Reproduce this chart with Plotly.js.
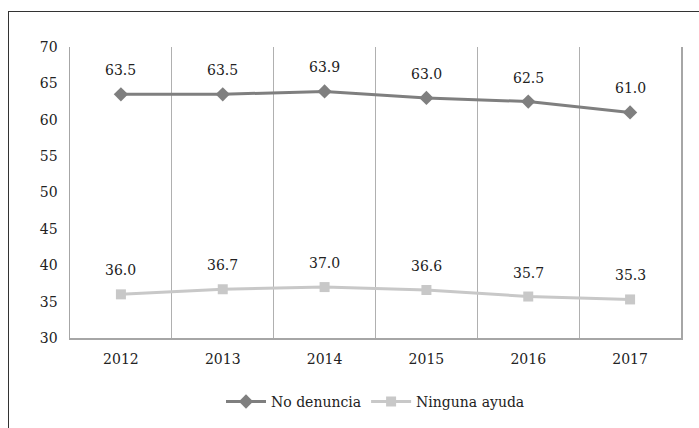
<!DOCTYPE html>
<html><head><meta charset="utf-8">
<script src="https://cdn.plot.ly/plotly-3.0.1.min.js"></script>
<style>
body{margin:0;padding:0;background:#fff;}
#wrap{position:relative;width:699px;height:428px;overflow:hidden;}
#frame{position:absolute;left:8px;top:11px;width:800px;height:600px;border-left:1.5px solid #333;border-top:1.5px solid #333;pointer-events:none;}
#chart{position:absolute;left:0;top:0;width:699px;height:428px;}
</style></head>
<body><div id="wrap"><div id="chart"></div><div id="frame"></div></div>
<script>
const years = ["2012","2013","2014","2015","2016","2017"];
const noDenuncia = [63.5, 63.5, 63.9, 63.0, 62.5, 61.0];
const ningunaAyuda = [36.0, 36.7, 37.0, 36.6, 35.7, 35.3];
const seriesNames = ["No denuncia", "Ninguna ayuda"];
const yTicks = [30,35,40,45,50,55,60,65,70];

const idx = years.map((_, i) => i);
function F(){ return {family: "DejaVu Serif", size: 14, color: "#222"}; }

const traces = [
  {x: idx, y: noDenuncia, name: seriesNames[0], type: "scatter", mode: "lines+markers",
   line: {color: "#7f7f7f", width: 3}, marker: {symbol: "diamond", size: 11, color: "#7f7f7f"}},
  {x: idx, y: ningunaAyuda, name: seriesNames[1], type: "scatter", mode: "lines+markers",
   line: {color: "#c8c8c8", width: 3}, marker: {symbol: "square", size: 10, color: "#c8c8c8"}}
];

const annotations = [];
[noDenuncia, ningunaAyuda].forEach(arr => {
  arr.forEach((v, i) => {
    annotations.push({x: idx[i], y: v, text: v.toFixed(1), showarrow: false,
      yshift: 24, font: F(), xref: "x", yref: "y"});
  });
});

const layout = {
  width: 699, height: 428,
  margin: {l: 70, r: 18, t: 47, b: 90},
  paper_bgcolor: "rgba(0,0,0,0)", plot_bgcolor: "rgba(0,0,0,0)",
  font: F(),
  showlegend: true,
  legend: {orientation: "h", x: 0.5, xanchor: "center", y: 0.061, yref: "container", yanchor: "middle", font: F(), itemwidth: 40},
  xaxis: {range: [-0.5, idx.length - 0.5], tickvals: idx, ticktext: years, showgrid: false,
          minor: {tick0: -0.5, dtick: 1, showgrid: true, gridcolor: "#b0b0b0", gridwidth: 1.2, ticks: ""},
          showline: true, linecolor: "#a6a6a6", linewidth: 1.5, ticks: "outside", ticklen: 8,
          tickcolor: "rgba(0,0,0,0)", zeroline: false, tickfont: F(), tickangle: 0},
  yaxis: {range: [30, 70], tickvals: yTicks, showgrid: false, zeroline: false,
          showline: true, mirror: true, linecolor: "#a6a6a6", linewidth: 1.5,
          ticks: "outside", ticklen: 8, tickcolor: "rgba(0,0,0,0)", tickfont: F()},
  annotations: annotations
};

Plotly.newPlot("chart", traces, layout, {displayModeBar: false, staticPlot: true});
</script></body></html>
